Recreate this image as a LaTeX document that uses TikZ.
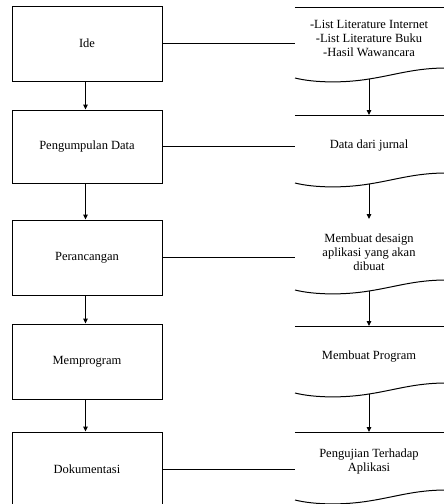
\documentclass[tikz,border=0pt]{standalone}
\usepackage{fontspec}
\setmainfont{Liberation Serif}
\usetikzlibrary{arrows.meta}
\begin{document}
\begin{tikzpicture}[x=1pt,y=-1pt,
  every node/.style={font=\fontsize{12.5}{14}\selectfont},
  stage/.style={draw,line width=1pt,minimum width=150pt,inner sep=0pt,anchor=center},
  doc/.style={align=center,inner sep=0pt,minimum width=148pt},
  line/.style={line width=1pt},
  arr/.style={line width=1pt,-{Triangle[length=5pt,width=4.5pt]}}]
\useasboundingbox (0,0) rectangle (444,504);

% left column: process stages
\node[stage,minimum height=75pt] (b1) at (87,43.5)  {Ide};
\node[stage,minimum height=73pt] (b2) at (87,146.5) {Pengumpulan Data};
\node[stage,minimum height=75pt] (b3) at (87,257.5) {Perancangan};
\node[stage,minimum height=75pt] (b4) at (87,361.5) {Memprogram};
\node[stage,minimum height=75pt] (b5) at (87,469.5) {Dokumentasi};

\foreach \a/\b in {b1/b2,b2/b3,b3/b4,b4/b5}
  \draw[arr] ([xshift=-1.5pt]\a.south) -- ([xshift=-1.5pt]\b.north);

% right column: document texts
\node[doc] (d1) at (369,38) {-List Literature Internet\\-List Literature Buku\\-Hasil Wawancara};
\node[doc] (d2) at (369,145) {Data dari jurnal};
\node[doc] (d3) at (369,252) {Membuat desaign\\aplikasi yang akan\\dibuat};
\node[doc] (d4) at (369,357) {Membuat Program};
\node[doc] (d5) at (369,461) {Pengujian Terhadap\\Aplikasi};

% top edges of the documents
\coordinate (t1) at (369,7);
\coordinate (t2) at (369,115);
\coordinate (t3) at (369,219);
\coordinate (t4) at (369,326);
\coordinate (t5) at (369,432);
\foreach \t in {t1,t2,t4,t5}
  \draw[line] (\t -| d1.west) -- ([xshift=2pt]\t -| d1.east);

% wavy bottom edges; (w) marks the middle of each wave
\foreach \i/\y in {1/78,2/183,3/290,4/393,5/500}{
  \draw[line] (295,\y) .. controls (315,\y+5) and (345,\y+5) .. (369,\y+1)
              .. controls (395,\y-3) and (415,\y-10) .. (446,\y-10);
  \coordinate (w\i) at (369,\y+1);
}
\draw[arr] (w1) -- (t2);
\draw[arr] (w2) -- (t3);
\draw[arr] (w3) -- (t4);
\draw[arr] (w4) -- (t5);

% links from stages to documents
\draw[line] (b1.east) -- (b1.east -| d1.west);
\draw[line] (b2.east) -- (b2.east -| d2.west);
\draw[line] (b3.east) -- (b3.east -| d3.west);
\draw[line] (b5.east) -- (b5.east -| d5.west);
\end{tikzpicture}
\end{document}
